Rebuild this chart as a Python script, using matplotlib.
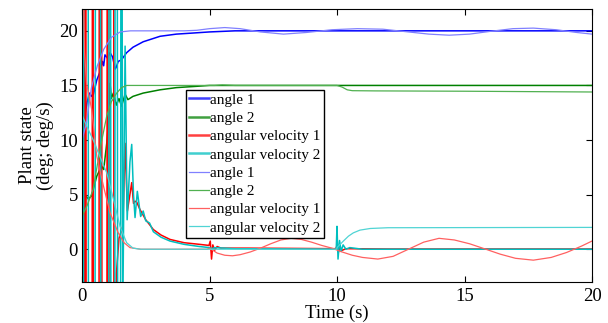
import numpy as np
import matplotlib.pyplot as plt

plt.rcParams['font.family'] = ['Liberation Serif', 'DejaVu Serif']

labels = ['angle 1', 'angle 2', 'angular velocity 1', 'angular velocity 2']

# measured plant (first set)
t_a1 = [0.0, 0.1, 0.2, 0.3, 0.38, 0.45, 0.58, 0.7, 0.8, 0.85, 0.9, 1.0, 1.1, 1.2, 1.3, 1.35,
        1.42, 1.55, 1.75, 2.0, 2.4, 3.06, 3.7, 4.36, 5.0, 6.0, 20.0]
a1 = [10.5, 12.0, 13.5, 14.3, 14.0, 14.2, 15.5, 16.2, 17.2, 16.8, 17.8, 17.5, 18.0, 17.6, 16.5, 16.7,
      17.2, 17.35, 18.0, 18.5, 19.0, 19.5, 19.7, 19.8, 19.9, 20.0, 20.0]

t_a2 = [0.0, 0.05, 0.15, 0.25, 0.38, 0.58, 0.77, 0.85, 0.97, 1.05, 1.1, 1.15, 1.23, 1.35, 1.45,
        1.55, 1.69, 1.8, 2.0, 2.4, 3.06, 3.7, 4.36, 5.0, 20.0]
a2 = [3.3, 2.8, 4.9, 4.6, 4.9, 6.7, 7.6, 7.3, 9.7, 12.0, 15.2, 13.8, 14.3, 13.2, 13.8,
      13.1, 14.2, 13.7, 14.0, 14.3, 14.6, 14.8, 14.9, 15.0, 15.0]

t_w1 = [0.0, 0.03, 0.06, 0.08, 0.11, 0.13, 0.15, 0.17, 0.39, 0.41, 0.43, 0.45, 0.66, 0.68, 0.77, 0.79,
        0.97, 0.99, 1.01, 1.03, 1.09, 1.11, 1.24, 1.26, 1.35, 1.45, 1.6, 1.69, 1.78, 1.95, 2.02, 2.08,
        2.15, 2.27, 2.5, 2.8, 3.1, 3.45, 4.0, 4.6, 4.98, 5.03, 5.08, 5.13, 5.2, 5.3, 5.45, 6.5, 8.0,
        9.95, 10.0, 10.05, 10.12, 10.2, 10.35, 12.0, 20.0]
w1 = [4.0, 40, 40, -40, -40, 40, 40, -40, -40, 40, 40, -40, -40, 40, 40, -40,
      -40, 40, 40, -40, -40, 40, 40, -40, -2.2, 1.0, 2.1, 9.7, 3.5, 6.1, 4.2, 4.4,
      4.3, 3.65, 2.7, 1.8, 1.3, 0.9, 0.6, 0.45, 0.35, 0.75, -0.9, 0.4, -0.1, 0.25, 0.1, 0.1, 0.08,
      0.05, 0.3, -0.3, 0.2, -0.1, 0.05, 0.02, 0.02]

t_w2 = [0.0, 0.02, 0.05, 0.07, 0.24, 0.26, 0.5, 0.53, 0.72, 0.75, 1.04, 1.06, 1.12, 1.14, 1.28, 1.3,
        1.38, 1.41, 1.5, 1.53, 1.56, 1.6, 1.69, 1.77, 1.88, 1.95, 2.02, 2.08, 2.17, 2.3, 2.4, 2.5,
        2.65, 2.8, 3.1, 3.45, 4.0, 4.6, 5.0, 5.1, 5.2, 6.0, 9.97, 10.0, 10.04, 10.1, 10.16, 10.24,
        10.35, 10.5, 11.0, 20.0]
w2 = [13.0, -40, -40, 40, 40, -40, -40, 40, 40, -40, -40, 40, 40, -40, -40, 40,
      40, -40, -40, 40, 40, -6.0, 18.6, 2.7, 8.0, 9.6, 5.0, 2.9, 5.3, 3.0, 3.5, 2.6,
      2.4, 1.6, 1.1, 0.75, 0.45, 0.25, 0.15, 0.05, 0.15, 0.05, 0.0, 2.1, -0.9, 0.8, -0.2, 0.4,
      0.0, 0.15, 0.0, 0.0]

# reference / second set
t_r1 = [0.0, 0.17, 0.37, 0.6, 0.85, 1.15, 1.5, 1.9, 3.0, 4.0, 4.5, 5.0, 5.6, 6.2, 7.0, 7.9, 8.8,
        9.8, 10.8, 11.8, 12.8, 13.6, 14.4, 15.2, 16.0, 16.9, 17.7, 18.6, 19.4, 20.0]
r1 = [10.0, 11.5, 14.8, 16.8, 18.3, 19.4, 19.9, 20.0, 20.0, 20.0, 20.05, 20.2, 20.3, 20.2, 19.9, 19.7, 19.85,
      20.1, 20.2, 20.15, 19.9, 19.7, 19.6, 19.7, 19.95, 20.2, 20.25, 20.1, 19.85, 19.7]

t_r2 = [0.0, 0.2, 0.44, 0.7, 0.97, 1.15, 1.36, 1.55, 1.75, 5.2, 5.5, 6.0, 10.0, 10.2, 10.4, 10.6,
        11.5, 15.0, 20.0]
r2 = [3.0, 4.0, 5.5, 9.1, 12.2, 13.5, 14.3, 14.8, 15.0, 15.0, 15.05, 15.0, 15.0, 14.85, 14.6, 14.52,
      14.5, 14.47, 14.4]

t_rw1 = [0.0, 0.1, 0.18, 0.38, 0.58, 0.84, 1.1, 1.42, 1.65, 1.88, 2.3, 4.9, 5.0, 5.3, 5.6, 5.9,
         6.2, 6.6, 7.0, 7.4, 7.8, 8.2, 8.6, 9.0, 9.4, 9.8, 10.2, 10.6, 11.0, 11.6, 12.2, 12.8,
         13.4, 14.0, 14.6, 15.2, 15.8, 16.4, 17.0, 17.7, 18.4, 19.0, 19.6, 20.0]
rw1 = [30.0, 18.0, 15.2, 12.8, 8.5, 5.8, 3.35, 1.5, 0.6, 0.15, 0.0, 0.0, 0.1, -0.35, -0.55, -0.6,
       -0.5, -0.25, 0.1, 0.5, 0.85, 1.0, 0.9, 0.65, 0.35, 0.1, -0.25, -0.55, -0.75, -0.9, -0.65, 0.0,
       0.65, 1.0, 0.85, 0.5, 0.03, -0.45, -0.83, -1.0, -0.75, -0.3, 0.3, 0.75]

t_rw2 = [0.0, 0.18, 0.44, 0.7, 0.97, 1.23, 1.49, 1.75, 2.0, 2.3, 9.98, 10.02, 10.25, 10.45, 10.64,
         10.9, 11.3, 12.0, 20.0]
rw2 = [12.3, 11.3, 10.0, 8.5, 7.0, 4.6, 2.1, 0.6, 0.1, 0.0, 0.0, 0.2, 0.75, 1.2, 1.5,
       1.75, 1.9, 1.97, 2.0]

fig = plt.figure(figsize=(6.08, 3.23), dpi=100)
ax = fig.add_axes([82 / 608, 41 / 323, 510 / 608, 273 / 323])

dark = ['#0000ff', '#008000', '#ff0000', '#00bfbf']
light = ['#8080ff', '#50b050', '#ff6060', '#50d4d4']

for (t, y), c, lab in zip([(t_a1, a1), (t_a2, a2), (t_w1, w1), (t_w2, w2)], dark, labels):
    ax.plot(t, y, color=c, lw=1.1, label=lab)
for (t, y), c, lab in zip([(t_r1, r1), (t_r2, r2), (t_rw1, rw1), (t_rw2, rw2)], light, labels):
    ax.plot(t, y, color=c, lw=0.9, label=lab)

ax.set_xlim(0, 20)
ax.set_ylim(-3, 22)
ax.set_xticks([0, 5, 10, 15, 20])
ax.set_yticks([0, 5, 10, 15, 20])
ax.tick_params(direction='in', top=True, right=True, length=4, labelsize=13.5, pad=3)
ax.tick_params(axis='x', pad=4)
ax.set_xlabel('Time (s)', fontsize=13.5, labelpad=0)
ax.set_ylabel('Plant state\n(deg; deg/s)', fontsize=13.5, linespacing=1.0, labelpad=4)

leg = ax.legend(loc='upper left', bbox_to_anchor=(0.204, 0.703), borderaxespad=0,
                fontsize=11.0, fancybox=False, framealpha=1, edgecolor='black',
                handlelength=1.3, handletextpad=0.1, labelspacing=0.3, borderpad=0.2)
leg.get_frame().set_linewidth(1.0)
for h in leg.get_lines()[:4]:
    h.set_linewidth(1.8)
    h.set_alpha(0.75)

fig.savefig('out.png', dpi=100)
